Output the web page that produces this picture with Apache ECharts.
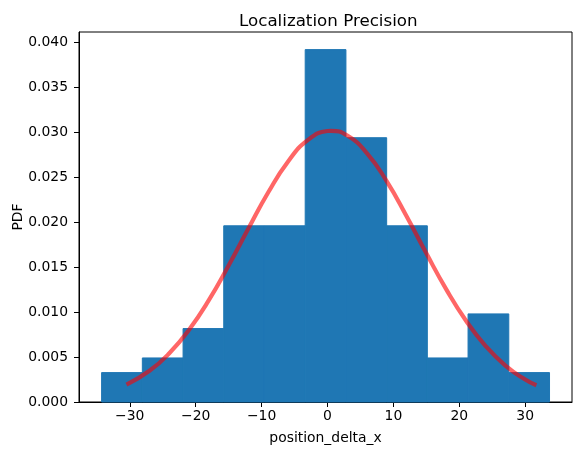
<!DOCTYPE html>
<html>
<head>
<meta charset="utf-8">
<script src="https://cdn.jsdelivr.net/npm/echarts@6/dist/echarts.min.js"></script>
<style>
html,body{margin:0;padding:0;background:#fff;}
#c{width:584px;height:455px;}
</style>
</head>
<body>
<div id="c"></div>
<script>
// Histogram bin edges and density heights
var binEdges = [-34.27, -28.09, -21.91, -15.74, -9.56, -3.38, 2.80, 8.98, 15.15, 21.33, 27.51, 33.69];
var density = [0.00327, 0.0049, 0.00817, 0.0196, 0.0196, 0.0392, 0.0294, 0.0196, 0.0049, 0.0098, 0.00327];
// Fitted PDF curve
var curveX = [-30.5, -27, -24, -21, -18, -15, -12, -9, -6, -3, 0, 0.5, 3, 6, 9, 12, 15, 18, 21, 24, 27, 30, 31.7];
var curveY = [0.00193, 0.00347, 0.00542, 0.00804, 0.01133, 0.01518, 0.01929, 0.02330, 0.02673, 0.02913, 0.03015, 0.03017, 0.02964, 0.02767, 0.02454, 0.02067, 0.01654, 0.01256, 0.00907, 0.00622, 0.00405, 0.00250, 0.00186];
var xTicks = [-30, -20, -10, 0, 10, 20, 30];

var histData = density.map(function (d, i) { return [binEdges[i], binEdges[i + 1], d]; });
var curveData = curveX.map(function (x, i) { return [x, curveY[i]]; });

var font = 'DejaVu Sans';
var chart = echarts.init(document.getElementById('c'), null, {renderer: 'canvas'});
chart.setOption({
  animation: false,
  backgroundColor: '#fff',
  title: {
    text: 'Localization Precision',
    left: 234, top: 8,
    textStyle: {fontFamily: font, fontSize: 16.7, fontWeight: 'normal', color: '#000'}
  },
  grid: {
    left: 79, right: 12, top: 32, bottom: 53,
    containLabel: false, outerBoundsMode: 'none',
    show: true, borderColor: '#000', borderWidth: 1, backgroundColor: 'transparent'
  },
  xAxis: {
    type: 'value', min: -37.7, max: 37.1,
    name: 'position_delta_x', nameLocation: 'middle', nameGap: 29,
    nameMoveOverlap: false,
    nameTextStyle: {fontFamily: font, fontSize: 13.9, color: '#000'},
    splitLine: {show: false},
    axisLine: {show: true, onZero: false, lineStyle: {color: '#000', width: 1}},
    axisTick: {show: true, length: 5, customValues: xTicks, lineStyle: {color: '#000'}},
    axisLabel: {
      customValues: xTicks, margin: 7,
      fontFamily: font, fontSize: 13.9, color: '#000',
      formatter: function (v) { return v < 0 ? '\u2212' + Math.abs(v) : String(v); }
    }
  },
  yAxis: {
    type: 'value', min: 0, max: 0.04116, interval: 0.005,
    name: 'PDF', nameLocation: 'middle', nameGap: 54,
    nameMoveOverlap: false,
    nameTextStyle: {fontFamily: font, fontSize: 13.9, color: '#000'},
    splitLine: {show: false},
    axisLine: {show: true, onZero: false, lineStyle: {color: '#000', width: 1}},
    axisTick: {show: true, length: 5, lineStyle: {color: '#000'}},
    axisLabel: {
      margin: 11, fontFamily: font, fontSize: 13.9, color: '#000',
      showMaxLabel: false,
      formatter: function (v) { return v.toFixed(3); }
    }
  },
  series: [
    {
      type: 'custom',
      data: histData,
      encode: {x: [0, 1], y: 2},
      z: 1,
      renderItem: function (params, api) {
        var p0 = api.coord([api.value(0), api.value(2)]);
        var p1 = api.coord([api.value(1), 0]);
        return {
          type: 'rect',
          shape: {x: p0[0], y: p0[1], width: p1[0] - p0[0], height: p1[1] - p0[1]},
          style: {fill: '#1f77b4', stroke: '#1f77b4', lineWidth: 1}
        };
      }
    },
    {
      type: 'line',
      data: curveData,
      smooth: true,
      showSymbol: false,
      z: 3,
      lineStyle: {color: 'rgba(255,0,0,0.6)', width: 4.2}
    }
  ]
});
</script>
</body>
</html>
